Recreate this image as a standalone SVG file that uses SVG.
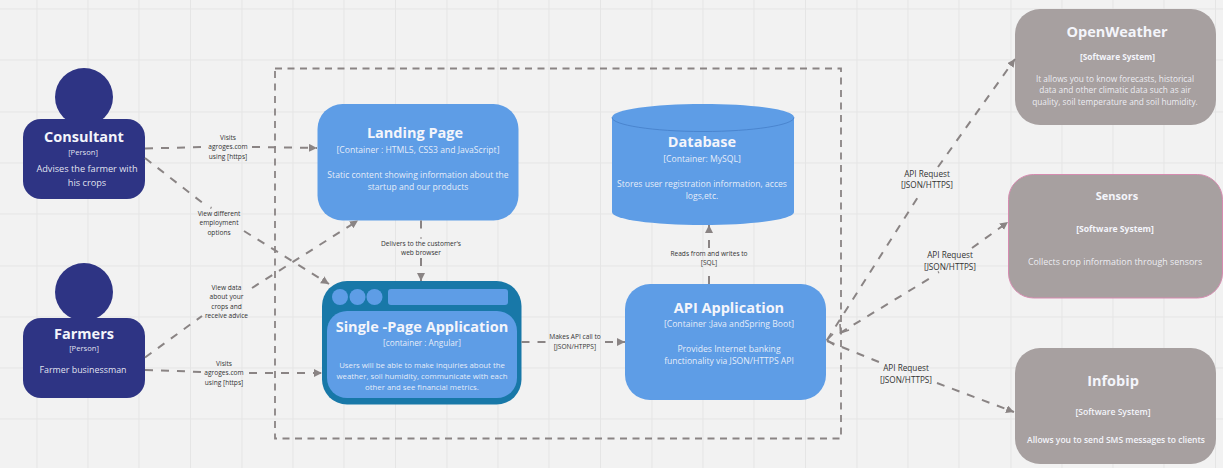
<svg xmlns="http://www.w3.org/2000/svg" width="1223" height="468" viewBox="0 0 1223 468">
<style>
text{font-family:"Open Sans","Noto Sans","Liberation Sans",sans-serif;text-anchor:middle;fill:#f4f5fb}
.t{font-size:14.500px;font-weight:700}
.s{font-size:8.600px;fill-opacity:.92}
.d{font-size:9.200px;fill-opacity:.92}
.p{font-size:7.600px;fill-opacity:.92}
.sb{font-size:8.300px;font-weight:700}
.q{font-size:7.800px;fill-opacity:.92}
.w{font-size:8.300px;fill-opacity:.92}
.l text{font-size:6.600px;fill:#333}
text.a{font-size:8.200px;fill:#333}
.grid line{stroke:#e5e5e5;stroke-width:1}
.per{fill:#2e3484}
.con{fill:#5e9de6}
.sys{fill:#a7a0a0}
.c path{fill:none;stroke:#8a8484;stroke-width:2;stroke-dasharray:8 8}
.c path.m{marker-end:url(#ah)}
.c path.o{stroke-dasharray:none;stroke-width:1.600px}
#boundary{fill:none;stroke:#8a8484;stroke-width:1.800px;stroke-dasharray:7 5.500}
</style>
<defs>
<marker id="ah" markerUnits="userSpaceOnUse" markerWidth="9" markerHeight="9" refX="8" refY="4" orient="auto">
<path d="M0 0L8 4L0 8Z" fill="#8a8484"/>
</marker>
</defs>
<rect width="1223" height="468" fill="#f2f2f2"/>
<g class="grid">
<line x1="37" y1="0" x2="37" y2="468"/><line x1="88" y1="0" x2="88" y2="468"/><line x1="139" y1="0" x2="139" y2="468"/><line x1="190.500" y1="0" x2="190.500" y2="468"/><line x1="242" y1="0" x2="242" y2="468"/><line x1="293" y1="0" x2="293" y2="468"/><line x1="344" y1="0" x2="344" y2="468"/><line x1="395.500" y1="0" x2="395.500" y2="468"/><line x1="447" y1="0" x2="447" y2="468"/><line x1="498" y1="0" x2="498" y2="468"/><line x1="549" y1="0" x2="549" y2="468"/><line x1="600.500" y1="0" x2="600.500" y2="468"/><line x1="652" y1="0" x2="652" y2="468"/><line x1="703" y1="0" x2="703" y2="468"/><line x1="754" y1="0" x2="754" y2="468"/><line x1="805.500" y1="0" x2="805.500" y2="468"/><line x1="857" y1="0" x2="857" y2="468"/><line x1="908" y1="0" x2="908" y2="468"/><line x1="959" y1="0" x2="959" y2="468"/><line x1="1011" y1="0" x2="1011" y2="468"/><line x1="1062" y1="0" x2="1062" y2="468"/><line x1="1113" y1="0" x2="1113" y2="468"/><line x1="1164" y1="0" x2="1164" y2="468"/><line x1="1215.500" y1="0" x2="1215.500" y2="468"/>
<line x1="0" y1="9" x2="1223" y2="9"/><line x1="0" y1="60" x2="1223" y2="60"/><line x1="0" y1="112" x2="1223" y2="112"/><line x1="0" y1="163" x2="1223" y2="163"/><line x1="0" y1="214" x2="1223" y2="214"/><line x1="0" y1="266" x2="1223" y2="266"/><line x1="0" y1="317" x2="1223" y2="317"/><line x1="0" y1="368" x2="1223" y2="368"/><line x1="0" y1="419" x2="1223" y2="419"/>
</g>
<rect id="boundary" x="275" y="68.500" width="566" height="370"/>
<g id="consultant">
<circle class="per" cx="84" cy="97" r="29"/>
<rect class="per" x="23" y="119" width="122" height="80" rx="18"/>
<text class="t" x="84" y="142">Consultant</text>
<text class="p" x="83" y="155">[Person]</text>
<text class="d" x="87" y="172">Advises the farmer with</text>
<text class="d" x="87" y="186">his crops</text>
</g>
<g id="farmers">
<circle class="per" cx="84" cy="292" r="29"/>
<rect class="per" x="23" y="318" width="122" height="80" rx="18"/>
<text class="t" x="84" y="339">Farmers</text>
<text class="p" x="84" y="351">[Person]</text>
<text x="83" y="373" style="font-size:8.900px;fill-opacity:.92">Farmer businessman</text>
</g>
<g id="landing-page">
<rect class="con" x="317.500" y="104" width="201" height="116.500" rx="25"/>
<text class="t" x="415" y="138">Landing Page</text>
<text class="s" x="418" y="153">[Container : HTML5, CSS3 and JavaScript]</text>
<text class="s" x="418" y="178">Static content showing information about the</text>
<text class="s" x="418" y="190">startup and our products</text>
</g>
<g id="single-page-application">
<rect x="322" y="281" width="199.500" height="123.500" rx="25" fill="#1878a8"/>
<circle class="con" cx="340" cy="297" r="8"/><circle class="con" cx="357.500" cy="297" r="8"/><circle class="con" cx="374.500" cy="297" r="8"/>
<rect class="con" x="388" y="289" width="120" height="16" rx="3"/>
<rect class="con" x="327" y="311" width="190" height="87" rx="20"/>
<text class="t" x="422" y="332">Single -Page Application</text>
<text class="q" x="422" y="346" style="font-size:8.200px">[container : Angular]</text>
<text class="q" x="422" y="368">Users will be able to make inquiries about the</text>
<text class="q" x="422" y="379">weather, soil humidity, communicate with each</text>
<text class="q" x="422" y="390">other and see financial metrics.</text>
</g>
<g id="database">
<path class="con" d="M612 117.500C612 109.500 653 104 703 104S794 109.500 794 117.500V212C794 219.500 753 225 703 225S612 219.500 612 212Z"/>
<path d="M612 117.500C612 125 653 131.500 703 131.500S794 125 794 117.500" fill="none" stroke="#4a85cf" stroke-width="1"/>
<text class="t" x="702" y="147">Database</text>
<text class="s" x="702" y="162">[Container: MySQL]</text>
<text class="s" x="702" y="187">Stores user registration information, acces</text>
<text class="s" x="702" y="199">logs,etc.</text>
</g>
<g id="api-application">
<rect class="con" x="625" y="284" width="201" height="116" rx="25"/>
<text class="t" x="729" y="313">API Application</text>
<text class="s" x="729" y="327">[Container :Java andSpring Boot]</text>
<text class="s" x="729" y="352">Provides Internet banking</text>
<text class="s" x="729" y="364">functionality via JSON/HTTPS API</text>
</g>
<g id="openweather">
<rect class="sys" x="1015" y="9" width="201" height="116" rx="25"/>
<text class="t" x="1117" y="37">OpenWeather</text>
<text class="sb" x="1117.500" y="60">[Software System]</text>
<text class="w" x="1115" y="82">It allows you to know forecasts, historical</text>
<text class="w" x="1115" y="93">data and other climatic data such as air</text>
<text class="w" x="1115" y="105">quality, soil temperature and soil humidity.</text>
</g>
<g id="sensors">
<rect class="sys" x="1008.500" y="174.500" width="214" height="123.500" rx="25" stroke="#d68bb0" stroke-width="1"/>
<text x="1117" y="200" style="font-size:11px;font-weight:700">Sensors</text>
<text class="sb" x="1115" y="232" style="font-size:8.600px">[Software System]</text>
<text x="1115" y="265" style="font-size:8.900px;fill-opacity:.92">Collects crop information through sensors</text>
</g>
<g id="infobip">
<rect class="sys" x="1015" y="348" width="201" height="116" rx="25"/>
<text class="t" x="1113" y="386">Infobip</text>
<text x="1113" y="415" style="font-size:8.600px;font-weight:600">[Software System]</text>
<text x="1116" y="443" style="font-size:8.500px;font-weight:600">Allows you to send SMS messages to clients</text>
</g>
<g id="connectors" class="c">
<path d="M145 148.500L204 147"/><path class="m" d="M252 147L317 148"/>
<path d="M145 158L204 204"/><path d="M210.500 207.500L211.500 208"/><path class="m" d="M244 231L329 284"/>
<path d="M145 357.500L202 316"/><path class="m" d="M252 288L358 220.500"/>
<path d="M145 370L204 372"/><path class="m" d="M249 373L322 373"/>
<path d="M421 220.500V229"/><path d="M421 237.500V238.500"/><path class="m" d="M421 258V281"/>
<path d="M521.500 342H548"/><path class="m" d="M605 342H625"/>
<path d="M709 284V268"/><path class="m" d="M709 248V225"/>
<path d="M827 340L918 197"/><path class="m" d="M938 167L1015 59"/>
<path d="M840 333L932 277"/><path d="M938 272.500L939 272"/><path class="m" d="M972 248L1008 222"/>
<path d="M827 341L879 362"/><path class="m" d="M937 383L1014 412"/>
<path class="o" d="M833 334L827 340L834 345"/>
<path class="o" d="M840 324L840.500 333L849 330"/>
</g>
<g class="l" id="connector-labels">
<text x="228" y="140">Visits</text><text x="228" y="149">agroges.com</text><text x="228" y="158.500">using [https]</text>
<text x="219" y="216">View different</text><text x="219" y="225">employment</text><text x="219" y="235">options</text>
<text x="226.500" y="290">View data</text><text x="226.500" y="299">about your</text><text x="226.500" y="309">crops and</text><text x="226.500" y="318">receive advice</text>
<text x="224" y="366">Visits</text><text x="224" y="375">agroges.com</text><text x="224" y="385">using [https]</text>
<text x="421" y="246">Delivers to the customer's</text><text x="421" y="255">web browser</text>
<text x="575" y="339">Makes API call to</text><text x="575" y="349">[JSON/HTPPS]</text>
<text x="709" y="256">Reads from and writes to</text><text x="709" y="265">[SQL]</text>
</g>
<g id="api-labels">
<text class="a" x="927" y="177">API Request</text><text class="a" x="927" y="188">[JSON/HTTPS]</text>
<text class="a" x="950" y="258">API Request</text><text class="a" x="950" y="270">[JSON/HTTPS]</text>
<text class="a" x="906" y="371">API Request</text><text class="a" x="906" y="383">[JSON/HTTPS]</text>
</g>
</svg>
